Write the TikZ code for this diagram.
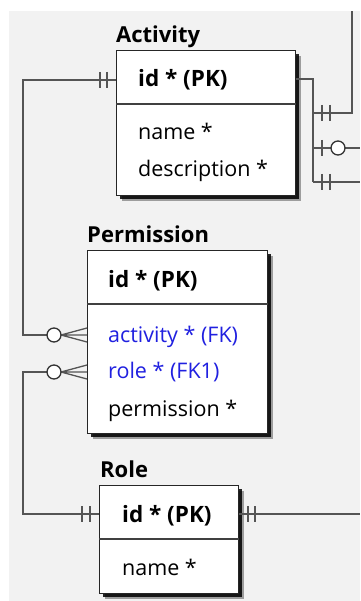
\documentclass[tikz,border=0pt]{standalone}
\usepackage{fontspec}
\setmainfont{Open Sans}
\usetikzlibrary{shadows}
\definecolor{bggray}{HTML}{F2F2F2}
\definecolor{linegray}{HTML}{555555}
\definecolor{fkblue}{HTML}{2020E0}
\begin{document}
\begin{tikzpicture}[x=1pt,y=-1pt,
  entity/.style={draw=black!85, line width=1.3pt, fill=white, inner sep=0pt, anchor=north west,
    drop shadow={shadow xshift=5pt, shadow yshift=-5pt, opacity=.35, fill=black},
    drop shadow={shadow xshift=3.5pt, shadow yshift=-3.5pt, opacity=.85, fill=black}},
  divider/.style={draw=black!75, line width=1.2pt},
  conn/.style={draw=linegray, line width=1.3pt},
  bar/.style={draw=linegray, line width=1.3pt},
  ring/.style={draw=black!80, line width=1.3pt, fill=white},
  ttl/.style={font=\fontsize{22}{24}\selectfont\bfseries, anchor=base west, inner sep=0pt},
  pk/.style={font=\fontsize{22.5}{24}\selectfont\bfseries, anchor=base west, inner sep=0pt},
  fld/.style={font=\fontsize{21.5}{24}\selectfont, anchor=base west, inner sep=0pt},
  fk/.style={fld, text=fkblue}]
\useasboundingbox (0,0) rectangle (360,601);
\fill[white] (0,0) rectangle (360,601);
\fill[bggray] (9,11) rectangle (360,601);

% Entities
\node[entity, minimum width=179pt, minimum height=145pt] (act) at (116,50) {};
\node[entity, minimum width=180pt, minimum height=183pt] (perm) at (87,250) {};
\node[entity, minimum width=139pt, minimum height=108pt] (role) at (99,485) {};

\draw[divider] (act.west |- 0,104) -- (act.east |- 0,104);
\draw[divider] (perm.west |- 0,304) -- (perm.east |- 0,304);
\draw[divider] (role.west |- 0,539) -- (role.east |- 0,539);

% Titles and fields
\node[ttl] (tact) at (116,43) {Activity};
\node[pk] (aid) at (138,87) {id * (PK)};
\node[fld] (aname) at (138,140) {name *};
\node[fld] (adesc) at (138,177) {description *};

\node[ttl] (tperm) at (87,243) {Permission};
\node[pk] (pid) at (108,287) {id * (PK)};
\node[fk] (pact) at (108,342) {activity * (FK)};
\node[fk] (prole) at (108,378) {role * (FK1)};
\node[fld] (pperm) at (108,416) {permission *};

\node[ttl] (trole) at (100,477) {Role};
\node[pk] (rid) at (122,522) {id * (PK)};
\node[fld] (rname) at (122,575) {name *};

% Connector coordinates
\coordinate (aL) at (act.west |- 0,80);
\coordinate (aR) at (act.east |- 0,79);
\coordinate (pA) at (perm.west |- 0,335);
\coordinate (pR) at (perm.west |- 0,372);
\coordinate (rL) at (role.west |- 0,514);
\coordinate (rR) at (role.east |- 0,514);
\coordinate (top) at (352,11);
\coordinate (out2) at (360,148);
\coordinate (out3) at (360,182);
\coordinate (out4) at (360,514);

% Activity -> Permission
\draw[conn] (aL) -- (23,80) -- (23,335) -- (47,335);
\draw[bar] (100,72) -- (100,88) (107,72) -- (107,88);
\draw[conn] (61,335) -- (pA) (61,335) -- ([yshift=7pt]pA) (61,335) -- ([yshift=-7pt]pA);
\draw[ring] (54,335) circle (7pt);

% Role -> Permission
\draw[conn] (rL) -- (23,514) -- (23,372) -- (47,372);
\draw[bar] (82,506) -- (82,522) (90,506) -- (90,522);
\draw[conn] (61,372) -- (pR) (61,372) -- ([yshift=7pt]pR) (61,372) -- ([yshift=-7pt]pR);
\draw[ring] (54,372) circle (7pt);

% Activity right connectors
\draw[conn] (aR) -- (313,79) -- (313,182);
\draw[conn] (313,113) -- (352,113) -- (top);
\draw[bar] (322,105) -- (322,121) (330,105) -- (330,121);
\draw[conn] (313,148) -- (out2);
\draw[bar] (322,140) -- (322,156);
\draw[ring] (338,148) circle (7pt);
\draw[conn] (313,182) -- (out3);
\draw[bar] (322,174) -- (322,190) (330,174) -- (330,190);

% Role right connector
\draw[conn] (rR) -- (out4);
\draw[bar] (248,506) -- (248,522) (255,506) -- (255,522);
\end{tikzpicture}
\end{document}
